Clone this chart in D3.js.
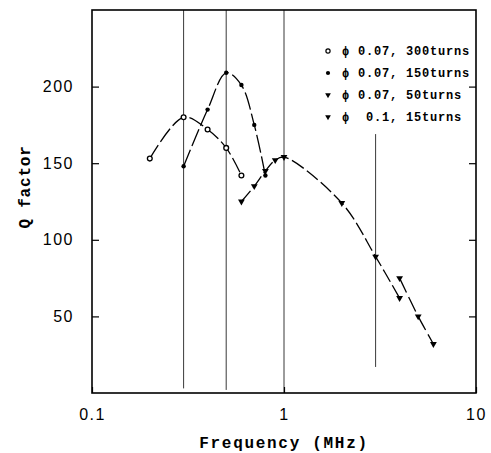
<!DOCTYPE html>
<html>
<head>
<meta charset="utf-8">
<script src="https://cdn.jsdelivr.net/npm/d3@7"></script>
<style>
  body { margin: 0; background: #fff; }
  svg { display: block; }
</style>
</head>
<body>
<div id="vis"></div>
<script>
// data
const freq300 = [0.2, 0.3, 0.4, 0.5, 0.6];
const q300 = [153, 180, 172, 160, 142];

const freq150 = [0.3, 0.4, 0.5, 0.6, 0.7, 0.8];
const q150 = [148, 185, 209, 201, 175, 142];

const freq50 = [0.6, 0.7, 0.8, 0.9, 1, 2, 3, 4];
const q50 = [125, 135, 145, 152, 154, 124, 89, 62];

const freq15 = [4, 5, 6];
const q15 = [75, 50, 32];

const legendLabels = ["\u03d5 0.07, 300turns", "\u03d5 0.07, 150turns", "\u03d5 0.07, 50turns", "\u03d5  0.1, 15turns"];
const yTicks = [50, 100, 150, 200];
const xTicks = [0.1, 1, 10];
const guideFreqs = [0.3, 0.5, 1, 3];
const guideTop = [250, 250, 250, 169];
const guideBottom = [3, 2, 0, 17];

// frame
const FRAME_WIDTH = 491;
const FRAME_HEIGHT = 453;
const MARGINS = {left: 92, right: 15, top: 10, bottom: 60};

const svg = d3.select("#vis")
  .append("svg")
  .attr("width", FRAME_WIDTH)
  .attr("height", FRAME_HEIGHT);

const X_SCALE = d3.scaleLog()
  .domain([0.1, 10])
  .range([MARGINS.left, FRAME_WIDTH - MARGINS.right]);

const Y_SCALE = d3.scaleLinear()
  .domain([0, 250])
  .range([FRAME_HEIGHT - MARGINS.bottom, MARGINS.top]);

const x0 = X_SCALE.range()[0], x1 = X_SCALE.range()[1];
const y0 = Y_SCALE.range()[0], y1 = Y_SCALE.range()[1];

// vertical guide lines
svg.selectAll(".guide")
  .data(guideFreqs)
  .enter()
  .append("line")
    .attr("x1", d => X_SCALE(d))
    .attr("x2", d => X_SCALE(d))
    .attr("y1", (d, i) => Y_SCALE(guideTop[i]))
    .attr("y2", (d, i) => Y_SCALE(guideBottom[i]))
    .attr("stroke", "#222")
    .attr("stroke-width", 0.9);

// left axis
svg.append("g")
  .attr("transform", "translate(" + x0 + ",0)")
  .call(d3.axisLeft(Y_SCALE).tickValues(yTicks).tickSizeInner(-7).tickSizeOuter(0).tickPadding(18))
  .call(g => g.select(".domain").remove())
  .call(g => g.selectAll("line").attr("stroke-width", 1.2))
  .call(g => g.selectAll("text")
    .attr("font-family", "Liberation Sans, Arial, sans-serif")
    .attr("font-size", 16)
    .attr("letter-spacing", 1.5)
    .attr("fill", "#000"));

// right axis ticks
svg.append("g")
  .attr("transform", "translate(" + x1 + ",0)")
  .call(d3.axisRight(Y_SCALE).tickValues(yTicks).tickSizeInner(-7).tickSizeOuter(0).tickFormat(""))
  .call(g => g.select(".domain").remove())
  .call(g => g.selectAll("line").attr("stroke-width", 1.2));

// bottom axis
svg.append("g")
  .attr("transform", "translate(0," + y0 + ")")
  .call(d3.axisBottom(X_SCALE).tickValues(xTicks).tickSizeInner(-6).tickSizeOuter(0).tickPadding(16)
    .tickFormat(d3.format("~g")))
  .call(g => g.select(".domain").remove())
  .call(g => g.selectAll("line").attr("stroke-width", 1.2))
  .call(g => g.selectAll("text")
    .attr("font-family", "Liberation Sans, Arial, sans-serif")
    .attr("font-size", 16)
    .attr("letter-spacing", 1.5)
    .attr("fill", "#000"));

// frame box
svg.append("rect")
  .attr("x", x0)
  .attr("y", y1)
  .attr("width", x1 - x0)
  .attr("height", y0 - y1)
  .attr("fill", "none")
  .attr("stroke", "#000")
  .attr("stroke-width", 1.6);

// axis titles
svg.append("text")
  .attr("x", (x0 + x1) / 2)
  .attr("y", 448)
  .attr("text-anchor", "middle")
  .attr("font-family", "Liberation Mono, Courier New, monospace")
  .attr("font-weight", "bold")
  .attr("font-size", 16)
  .attr("letter-spacing", 1.7)
  .text("Frequency (MHz)");

svg.append("text")
  .attr("transform", "translate(30,187) rotate(-90)")
  .attr("text-anchor", "middle")
  .attr("font-family", "Liberation Mono, Courier New, monospace")
  .attr("font-weight", "bold")
  .attr("font-size", 16)
  .attr("letter-spacing", 0.8)
  .text("Q factor");

// series
const series = [
  {f: freq300, q: q300, marker: "open", dash: "16,4"},
  {f: freq150, q: q150, marker: "dot", dash: "18,4"},
  {f: freq50, q: q50, marker: "tri", dash: "14,4"},
  {f: freq15, q: q15, marker: "tri", dash: "16,5"}
];

const line = d3.line()
  .x(d => X_SCALE(d[0]))
  .y(d => Y_SCALE(d[1]))
  .curve(d3.curveCatmullRom.alpha(0.5));

const triangle = d3.symbol().type(d3.symbolTriangle).size(20);

series.forEach(s => {
  const pts = s.f.map((f, i) => [f, s.q[i]]);

  svg.append("path")
    .datum(pts)
    .attr("d", line)
    .attr("fill", "none")
    .attr("stroke", "#000")
    .attr("stroke-width", 1.3)
    .attr("stroke-dasharray", s.dash);

  const g = svg.append("g");
  if (s.marker === "open") {
    g.selectAll("circle").data(pts).enter().append("circle")
      .attr("cx", d => X_SCALE(d[0]))
      .attr("cy", d => Y_SCALE(d[1]))
      .attr("r", 2.4)
      .attr("fill", "#fff")
      .attr("stroke", "#000")
      .attr("stroke-width", 1.3);
  } else if (s.marker === "dot") {
    g.selectAll("circle").data(pts).enter().append("circle")
      .attr("cx", d => X_SCALE(d[0]))
      .attr("cy", d => Y_SCALE(d[1]))
      .attr("r", 2.2)
      .attr("fill", "#000");
  } else {
    g.selectAll("path").data(pts).enter().append("path")
      .attr("d", triangle)
      .attr("transform", d => "translate(" + X_SCALE(d[0]) + "," + Y_SCALE(d[1]) + ") rotate(180)")
      .attr("fill", "#000");
  }
});

// legend
const legend = svg.append("g");
const LEG_X = 328, LEG_Y = 51, LEG_STEP = 22;

legendLabels.forEach((label, i) => {
  const cy = LEG_Y + i * LEG_STEP;
  const m = series[i].marker;
  if (m === "open") {
    legend.append("circle").attr("cx", LEG_X).attr("cy", cy).attr("r", 2.1)
      .attr("fill", "#fff").attr("stroke", "#000").attr("stroke-width", 1.2);
  } else if (m === "dot") {
    legend.append("circle").attr("cx", LEG_X).attr("cy", cy).attr("r", 2.1).attr("fill", "#000");
  } else {
    legend.append("path").attr("d", d3.symbol().type(d3.symbolTriangle).size(14))
      .attr("transform", "translate(" + LEG_X + "," + cy + ") rotate(180)")
      .attr("fill", "#000");
  }
  legend.append("text")
    .attr("x", LEG_X + 14)
    .attr("y", cy + 4)
    .attr("font-family", "Liberation Mono, Courier New, monospace")
    .attr("font-weight", "bold")
    .attr("font-size", 12)
    .attr("letter-spacing", 0.8)
    .style("white-space", "pre")
    .text(label);
});
</script>
</body>
</html>
